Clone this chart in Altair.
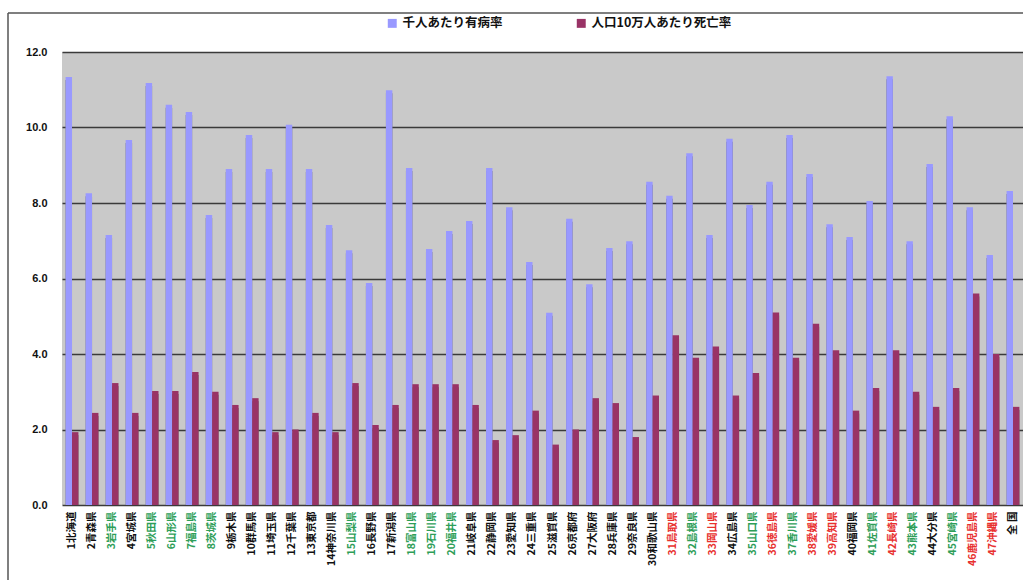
import altair as alt
import pandas as pd

prefs = ["1北海道", "2青森県", "3岩手県", "4宮城県", "5秋田県", "6山形県", "7福島県", "8茨城県",
         "9栃木県", "10群馬県", "11埼玉県", "12千葉県", "13東京都", "14神奈川県", "15山梨県", "16長野県",
         "17新潟県", "18富山県", "19石川県", "20福井県", "21岐阜県", "22静岡県", "23愛知県", "24三重県",
         "25滋賀県", "26京都府", "27大阪府", "28兵庫県", "29奈良県", "30和歌山県", "31鳥取県", "32島根県",
         "33岡山県", "34広島県", "35山口県", "36徳島県", "37香川県", "38愛媛県", "39高知県", "40福岡県",
         "41佐賀県", "42長崎県", "43熊本県", "44大分県", "45宮崎県", "46鹿児島県", "47沖縄県", "全 国"]

prevalence = [11.34, 8.26, 7.15, 9.67, 11.18, 10.60, 10.41, 7.68,
              8.90, 9.80, 8.90, 10.07, 8.90, 7.42, 6.75, 5.88,
              10.99, 8.93, 6.78, 7.26, 7.52, 8.93, 7.89, 6.44,
              5.09, 7.58, 5.85, 6.81, 6.99, 8.56, 8.19, 9.32,
              7.15, 9.70, 7.95, 8.56, 9.80, 8.77, 7.44, 7.10,
              8.05, 11.36, 6.99, 9.03, 10.30, 7.89, 6.62, 8.32]

mortality = [1.93, 2.44, 3.23, 2.44, 3.02, 3.02, 3.52, 3.00,
             2.65, 2.83, 1.93, 2.00, 2.44, 1.93, 3.23, 2.12,
             2.65, 3.20, 3.20, 3.20, 2.65, 1.72, 1.85, 2.50,
             1.60, 2.00, 2.83, 2.70, 1.80, 2.90, 4.50, 3.90,
             4.20, 2.90, 3.50, 5.10, 3.90, 4.80, 4.10, 2.50,
             3.10, 4.10, 3.00, 2.60, 3.10, 5.60, 4.00, 2.60]

green_labels = ["3岩手県", "5秋田県", "6山形県", "7福島県", "8茨城県", "15山梨県", "18富山県",
                "19石川県", "20福井県", "32島根県", "35山口県", "37香川県", "41佐賀県", "43熊本県",
                "45宮崎県"]
red_labels = ["31鳥取県", "33岡山県", "36徳島県", "38愛媛県", "39高知県", "42長崎県", "46鹿児島県",
              "47沖縄県"]

series_names = ["千人あたり有病率", "人口10万人あたり死亡率"]
series_colors = ["#9999FF", "#993366"]

rows = []
for p, a, b in zip(prefs, prevalence, mortality):
    rows.append({"pref": p, "series": series_names[0], "value": a})
    rows.append({"pref": p, "series": series_names[1], "value": b})
df = pd.DataFrame(rows)

font = "Noto Sans CJK JP"


def js_list(lst):
    return "[" + ",".join("'" + s + "'" for s in lst) + "]"


label_color = {
    "condition": [
        {"test": f"indexof({js_list(green_labels)}, datum.value) >= 0", "value": "#2E9E58"},
        {"test": f"indexof({js_list(red_labels)}, datum.value) >= 0", "value": "#E8312F"},
    ],
    "value": "#111111",
}

x_enc = alt.X(
    "pref:N",
    sort=prefs,
    title=None,
    scale=alt.Scale(paddingInner=0.36, paddingOuter=0.18),
    axis=alt.Axis(
        labelAngle=-90,
        labelFont=font,
        labelFontSize=10.5,
        labelFontWeight="bold",
        labelColor=label_color,
        labelPadding=6,
        ticks=False,
        domain=False,
        grid=False,
    ),
)
y_enc = alt.Y(
    "value:Q",
    title=None,
    scale=alt.Scale(domain=[0, 12], nice=False),
    axis=alt.Axis(
        values=[0, 2, 4, 6, 8, 10, 12],
        format=".1f",
        labelFont="Liberation Sans",
        labelFontSize=11,
        labelFontWeight="bold",
        labelColor="#111111",
        labelPadding=15,
        ticks=False,
        domain=False,
        grid=True,
        gridColor="#3A3A3A",
        gridWidth=1.5,
    ),
)

base = alt.Chart(df)

shadow = base.mark_bar(color="#666666", xOffset=2, yOffset=3, clip=True).encode(
    x=x_enc,
    y=y_enc,
    xOffset=alt.XOffset("series:N", sort=series_names, scale=alt.Scale(paddingInner=0)),
)

bars = base.mark_bar().encode(
    x=x_enc,
    y=y_enc,
    xOffset=alt.XOffset("series:N", sort=series_names, scale=alt.Scale(paddingInner=0)),
    color=alt.Color(
        "series:N",
        sort=series_names,
        scale=alt.Scale(domain=series_names, range=series_colors),
        legend=alt.Legend(
            title=None,
            orient="none",
            legendX=324,
            legendY=-35,
            direction="horizontal",
            symbolType="square",
            symbolSize=80,
            symbolStrokeWidth=0,
            labelFont=font,
            labelFontSize=12.5,
            labelFontWeight="bold",
            labelColor="#111111",
            columnPadding=72,
            labelLimit=300,
        ),
    ),
)

one = pd.DataFrame({"k": [0]})
border_left = alt.Chart(one).mark_rule(color="#555555", strokeWidth=1.5).encode(
    x=alt.value(-54), y=alt.value(-39), y2=alt.value(540)
)
border_top = alt.Chart(one).mark_rule(color="#555555", strokeWidth=1.5).encode(
    x=alt.value(-54), x2=alt.value(975), y=alt.value(-39)
)

chart = (
    alt.layer(border_left, border_top, shadow, bars)
    .properties(
        width=961,
        height=453,
        autosize=alt.AutoSizeParams(type="none"),
        padding={"left": 62, "top": 52, "right": 0, "bottom": 75},
        background="white",
    )
    .configure_view(fill="#C9C9C9", stroke=None)
)

chart.save("out.html", embed_options={"renderer": "svg", "actions": False})
